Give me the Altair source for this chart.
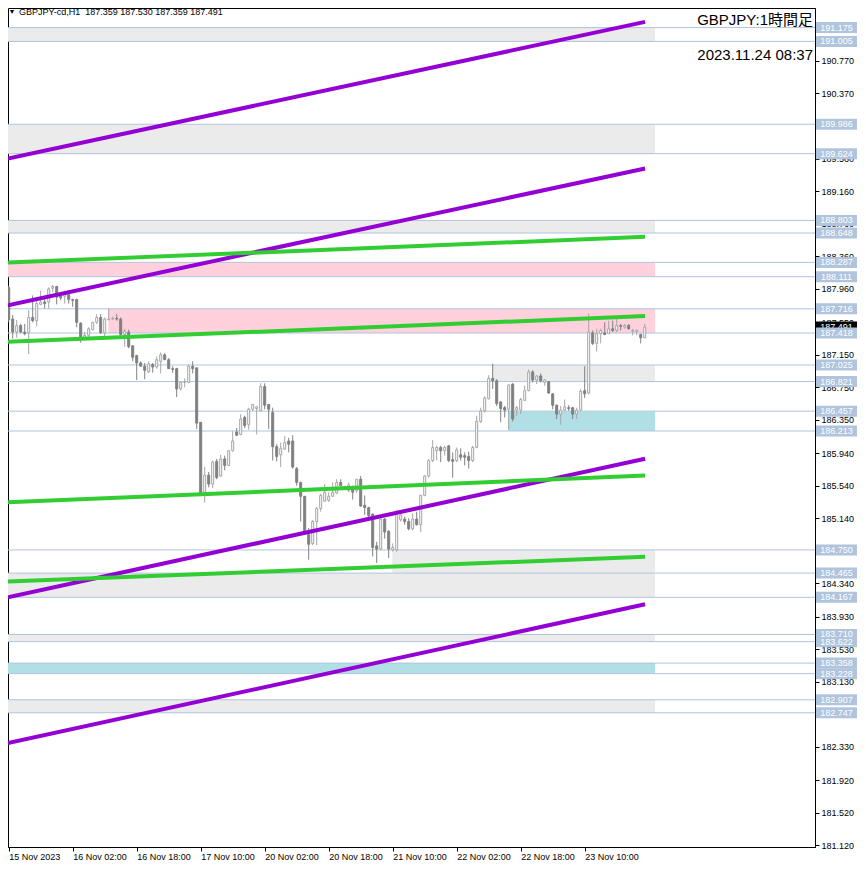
import altair as alt
import pandas as pd

# ---------------- data ----------------
opens = [187.98, 187.59, 187.43, 187.51, 187.43, 187.42, 187.61, 187.57, 187.77, 187.80,
         187.80, 187.97, 187.99, 187.87, 187.87, 187.89, 187.83, 187.83, 187.54, 187.36,
         187.39, 187.46, 187.55, 187.61, 187.42, 187.58, 187.59, 187.60, 187.59, 187.40,
         187.43, 187.26, 187.14, 187.05, 187.01, 186.94, 187.03, 187.00, 187.07, 187.15,
         187.09, 186.98, 186.98, 186.73, 186.81, 186.81, 187.01, 186.99, 186.32, 185.46,
         185.67, 185.56, 185.84, 185.66, 185.87, 185.79, 185.97, 186.20, 186.17, 186.38,
         186.29, 186.48, 186.49, 186.46, 186.76, 186.54, 186.44, 186.02, 185.92, 185.99,
         186.09, 186.09, 185.75, 185.58, 185.41, 184.94, 184.83, 185.10, 185.26, 185.35,
         185.36, 185.41, 185.45, 185.58, 185.50, 185.48, 185.50, 185.48, 185.62, 185.30,
         185.27, 185.19, 184.80, 184.76, 185.13, 184.98, 184.75, 184.75, 185.12, 185.13,
         185.10, 185.01, 185.13, 185.06, 185.42, 185.66, 185.85, 185.97, 186.01, 185.97,
         186.03, 185.86, 185.85, 185.92, 185.91, 185.90, 185.85, 186.01, 186.33, 186.46,
         186.61, 186.86, 186.83, 186.57, 186.50, 186.48, 186.79, 186.47, 186.47, 186.59,
         186.71, 186.94, 186.84, 186.89, 186.81, 186.82, 186.67, 186.53, 186.42, 186.47,
         186.50, 186.50, 186.42, 186.47, 186.71, 186.68, 187.42, 187.29, 187.41, 187.42,
         187.41, 187.47, 187.45, 187.51, 187.49, 187.51, 187.44, 187.44, 187.40, 187.359]
highs = [188.00, 187.64, 187.58, 187.53, 187.53, 187.70, 187.88, 187.84, 187.94, 187.86,
         187.98, 188.01, 188.00, 187.90, 187.94, 187.90, 187.84, 187.84, 187.55, 187.43,
         187.49, 187.55, 187.65, 187.65, 187.61, 187.72, 187.62, 187.65, 187.61, 187.47,
         187.46, 187.27, 187.15, 187.07, 187.05, 187.07, 187.05, 187.13, 187.18, 187.17,
         187.11, 187.01, 186.99, 186.82, 186.86, 187.03, 187.07, 186.99, 186.32, 185.77,
         185.71, 185.85, 185.87, 185.92, 185.91, 185.98, 186.21, 186.25, 186.42, 186.40,
         186.50, 186.54, 186.51, 186.80, 186.80, 186.54, 186.50, 186.05, 186.07, 186.15,
         186.13, 186.16, 185.77, 185.59, 185.41, 185.02, 185.12, 185.28, 185.44, 185.56,
         185.46, 185.58, 185.62, 185.62, 185.54, 185.58, 185.54, 185.62, 185.66, 185.42,
         185.28, 185.20, 184.85, 185.14, 185.14, 184.99, 184.83, 185.24, 185.24, 185.16,
         185.14, 185.20, 185.22, 185.43, 185.67, 185.87, 186.10, 186.03, 186.03, 186.03,
         186.04, 185.95, 186.01, 186.00, 185.95, 185.96, 186.03, 186.40, 186.50, 186.64,
         186.90, 187.04, 186.85, 186.58, 186.52, 186.78, 186.80, 186.52, 186.62, 186.77,
         186.97, 186.96, 186.90, 186.92, 186.85, 186.82, 186.68, 186.54, 186.52, 186.60,
         186.53, 186.51, 186.50, 186.73, 187.01, 187.66, 187.45, 187.47, 187.47, 187.55,
         187.57, 187.57, 187.59, 187.53, 187.53, 187.53, 187.47, 187.46, 187.41, 187.530]
lows = [187.55, 187.35, 187.36, 187.42, 187.39, 187.16, 187.55, 187.50, 187.76, 187.72,
        187.72, 187.92, 187.77, 187.82, 187.78, 187.78, 187.74, 187.49, 187.30, 187.35,
        187.37, 187.45, 187.53, 187.41, 187.36, 187.58, 187.58, 187.57, 187.39, 187.25,
        187.23, 187.07, 186.84, 187.01, 186.85, 186.93, 186.93, 186.98, 186.92, 187.09,
        186.98, 186.93, 186.63, 186.71, 186.75, 186.80, 186.92, 186.24, 185.42, 185.33,
        185.52, 185.51, 185.62, 185.65, 185.73, 185.78, 185.96, 186.15, 186.16, 186.25,
        186.23, 186.46, 186.17, 186.46, 186.48, 186.24, 185.85, 185.84, 185.77, 185.98,
        185.95, 185.75, 185.54, 185.10, 184.97, 184.63, 184.81, 184.81, 185.22, 185.34,
        185.34, 185.40, 185.44, 185.53, 185.49, 185.46, 185.37, 185.45, 185.28, 185.18,
        185.14, 184.67, 184.59, 184.75, 184.89, 184.65, 184.73, 184.73, 185.10, 185.06,
        184.99, 184.99, 185.05, 184.97, 185.41, 185.64, 185.83, 185.85, 185.83, 185.91,
        185.83, 185.64, 185.83, 185.85, 185.79, 185.75, 185.83, 186.00, 186.31, 186.44,
        186.60, 186.73, 186.52, 186.32, 186.38, 186.23, 186.33, 186.40, 186.42, 186.58,
        186.70, 186.81, 186.79, 186.81, 186.77, 186.67, 186.48, 186.36, 186.29, 186.46,
        186.46, 186.36, 186.36, 186.46, 186.62, 186.66, 187.27, 187.19, 187.29, 187.39,
        187.41, 187.43, 187.43, 187.45, 187.47, 187.46, 187.39, 187.39, 187.29, 187.359]
closes = [187.58, 187.43, 187.51, 187.43, 187.41, 187.61, 187.57, 187.78, 187.80, 187.78,
          187.96, 187.99, 187.86, 187.85, 187.92, 187.83, 187.82, 187.55, 187.36, 187.39,
          187.47, 187.55, 187.61, 187.42, 187.59, 187.59, 187.60, 187.59, 187.40, 187.44,
          187.25, 187.12, 187.05, 187.01, 186.96, 187.04, 187.00, 187.09, 187.15, 187.09,
          186.98, 186.97, 186.73, 186.81, 186.82, 187.01, 186.98, 186.31, 185.45, 185.67,
          185.56, 185.83, 185.64, 185.87, 185.79, 185.97, 186.09, 186.16, 186.36, 186.28,
          186.48, 186.54, 186.51, 186.76, 186.53, 186.48, 186.02, 185.90, 186.00, 186.07,
          186.05, 185.77, 185.58, 185.41, 184.98, 184.82, 185.10, 185.26, 185.42, 185.46,
          185.41, 185.46, 185.58, 185.54, 185.53, 185.55, 185.46, 185.62, 185.29, 185.27,
          185.17, 184.78, 184.76, 185.13, 184.97, 184.76, 184.78, 185.19, 185.18, 185.10,
          185.01, 185.13, 185.06, 185.42, 185.66, 185.85, 186.01, 186.01, 185.97, 186.01,
          185.85, 185.84, 185.98, 185.89, 185.89, 185.85, 186.01, 186.33, 186.46, 186.62,
          186.86, 186.83, 186.55, 186.49, 186.47, 186.78, 186.36, 186.50, 186.60, 186.71,
          186.94, 186.84, 186.89, 186.83, 186.84, 186.68, 186.53, 186.42, 186.47, 186.51,
          186.49, 186.42, 186.47, 186.70, 186.67, 187.43, 187.29, 187.41, 187.45, 187.40,
          187.47, 187.45, 187.51, 187.50, 187.51, 187.47, 187.45, 187.45, 187.36, 187.491]

time_ticks = [0, 16, 32, 48, 64, 80, 96, 112, 128, 144]
time_labels = ["15 Nov 2023", "16 Nov 02:00", "16 Nov 18:00", "17 Nov 10:00", "20 Nov 02:00",
               "20 Nov 18:00", "21 Nov 10:00", "22 Nov 02:00", "22 Nov 18:00", "23 Nov 10:00"]

price_ticks = [190.770, 190.370, 189.970, 189.560, 189.160, 188.760, 188.360, 187.960, 187.550,
               187.150, 186.750, 186.350, 185.940, 185.540, 185.140, 184.740, 184.340, 183.930,
               183.530, 183.130, 182.730, 182.330, 181.920, 181.520, 181.120]

level_prices = [182.747, 182.907, 183.228, 183.358, 183.622, 183.710, 184.167, 184.465, 184.750,
                186.213, 186.457, 186.821, 187.025, 187.418, 187.716, 188.111, 188.287, 188.648,
                188.803, 189.624, 189.986, 191.005, 191.175]

zone_start = [-0.2, -0.2, -0.2, -0.2, 24.9, 120.9, 124.9, 95.9, -0.2, -0.2, -0.2, -0.2]
zone_end = [161.6] * 12
zone_top = [191.175, 189.986, 188.803, 188.287, 187.716, 187.025, 186.457, 184.750, 184.465, 183.710, 183.358, 182.907]
zone_bottom = [191.005, 189.624, 188.648, 188.111, 187.418, 186.821, 186.213, 184.465, 184.167, 183.622, 183.228, 182.747]
zone_color = ["#EBEBEB", "#EBEBEB", "#EBEBEB", "#FFD1DC", "#FFD1DC", "#EBEBEB", "#B0E0E6",
              "#EBEBEB", "#EBEBEB", "#EBEBEB", "#B0E0E6", "#EBEBEB"]

trend_id = ["p1", "p1", "p2", "p2", "p3", "p3", "p4", "p4", "g1", "g1", "g2", "g2", "g3", "g3", "g4", "g4"]
trend_x = [-0.2, 159.1] * 8
trend_price = [189.564, 191.245, 187.760, 189.442, 184.166, 185.872, 182.375, 184.081,
               188.284, 188.601, 187.310, 187.626, 185.336, 185.665, 184.361, 184.665]
trend_color = ["#9400D3"] * 8 + ["#32CD32"] * 8

current_price = 187.491
header_text = "GBPJPY-cd,H1\u00a0\u00a0187.359 187.530 187.359 187.491"
title_text = "GBPJPY:1時間足"
time_text = "2023.11.24 08:37"

# ---------------- frames ----------------
candles = pd.DataFrame({"i": list(range(len(opens))), "open": opens, "high": highs,
                        "low": lows, "close": closes})
bull = candles["close"] >= candles["open"]
candles["fill"] = ["#FFFFFF" if b else "#808080" for b in bull]
candles["stroke"] = ["#A6A6A6" if b else "#808080" for b in bull]

zones = pd.DataFrame({"start": zone_start, "end": zone_end, "top": zone_top,
                      "bottom": zone_bottom, "color": zone_color})
levels = pd.DataFrame({"price": level_prices})
trends = pd.DataFrame({"id": trend_id, "x": trend_x, "price": trend_price, "color": trend_color})
cur = pd.DataFrame({"price": [current_price]})
one = pd.DataFrame({"a": [0]})

W, H = 807, 839
X = alt.Scale(domain=[-0.175, 201.575], nice=False, zero=False)
Y = alt.Scale(domain=[181.096, 191.416], nice=False, zero=False)

label_expr = "[" + ",".join("'%s'" % s for s in time_labels) + "][round(datum.value/16)]"
xaxis = alt.Axis(values=time_ticks, labelExpr=label_expr, title=None, orient="bottom",
                 tickSize=4, tickColor="black", domainColor="black", labelColor="black",
                 labelFontSize=9, labelAlign="left", labelBaseline="top", labelPadding=1,
                 labelOverlap=False, labelBound=False, labelFlush=False, grid=False, zindex=0)
yaxis = alt.Axis(values=price_ticks, format=".3f", title=None, orient="right",
                 tickSize=4, tickColor="black", domainColor="black", labelColor="black",
                 labelFontSize=9, labelPadding=2, labelOverlap=False, labelBound=False,
                 labelFlush=False, grid=False, zindex=0)


def xq(field):
    return alt.X(field, scale=X, axis=xaxis)


def yq(field):
    return alt.Y(field, scale=Y, axis=yaxis)


zone_layer = alt.Chart(zones).mark_rect(clip=True).encode(
    x=xq("start:Q"), x2="end:Q", y=yq("top:Q"), y2="bottom:Q",
    fill=alt.Fill("color:N", scale=None))

level_layer = alt.Chart(levels).mark_rule(color="#B0C4DE", strokeWidth=1).encode(
    y=yq("price:Q"))

wick_layer = alt.Chart(candles).mark_rule(strokeWidth=1, clip=True).encode(
    x=xq("i:Q"), y=yq("low:Q"), y2="high:Q",
    color=alt.Color("stroke:N", scale=None))

body_layer = alt.Chart(candles).transform_calculate(
    x0="datum.i - 0.25", x1="datum.i + 0.25"
).mark_rect(strokeWidth=1, clip=True).encode(
    x=xq("x0:Q"), x2="x1:Q", y=yq("open:Q"), y2="close:Q",
    fill=alt.Fill("fill:N", scale=None), stroke=alt.Stroke("stroke:N", scale=None))

trend_layer = alt.Chart(trends).mark_line(strokeWidth=4, clip=True).encode(
    x=xq("x:Q"), y=yq("price:Q"),
    color=alt.Color("color:N", scale=None), detail="id:N")

cur_box = alt.Chart(cur).mark_rect(color="black", yOffset=-5.5, y2Offset=5.5).encode(
    x=alt.value(W + 1), x2=alt.value(W + 42), y=yq("price:Q"), y2="price:Q")
cur_txt = alt.Chart(cur).mark_text(color="white", fontSize=9, baseline="middle", align="center").encode(
    x=alt.value(W + 21.5), y=yq("price:Q"), text=alt.Text("price:Q", format=".3f"))

lvl_box = alt.Chart(levels).mark_rect(color="#B0C4DE", yOffset=-5.5, y2Offset=5.5).encode(
    x=alt.value(W + 1), x2=alt.value(W + 42), y=yq("price:Q"), y2="price:Q")
lvl_txt = alt.Chart(levels).mark_text(color="white", fontSize=9, baseline="middle", align="center").encode(
    x=alt.value(W + 21.5), y=yq("price:Q"), text=alt.Text("price:Q", format=".3f"))

tri = alt.Chart(one).mark_text(text="▼", fontSize=7, color="black", align="center",
                               baseline="alphabetic").encode(x=alt.value(4), y=alt.value(6))
hdr = alt.Chart(one).mark_text(text=header_text, fontSize=9, color="black", align="left",
                               baseline="alphabetic").encode(x=alt.value(11), y=alt.value(7))
ttl = alt.Chart(one).mark_text(text=title_text, fontSize=15, color="black", align="right",
                               baseline="alphabetic",
                               font="Liberation Sans, Noto Sans CJK JP").encode(
    x=alt.value(W - 2), y=alt.value(17))
tme = alt.Chart(one).mark_text(text=time_text, fontSize=15, color="black", align="right",
                               baseline="alphabetic").encode(x=alt.value(W - 2), y=alt.value(52))

chart = alt.layer(
    zone_layer, level_layer, wick_layer, body_layer, trend_layer,
    cur_box, cur_txt, lvl_box, lvl_txt, tri, hdr, ttl, tme
).properties(
    width=W, height=H,
    autosize=alt.AutoSizeParams(type="none"),
    padding={"left": 0, "top": 0, "right": 43, "bottom": 17},
).configure(font="Liberation Sans").configure_view(stroke="black", strokeWidth=1)

chart.save("out.html", embed_options={"renderer": "svg", "actions": False})
